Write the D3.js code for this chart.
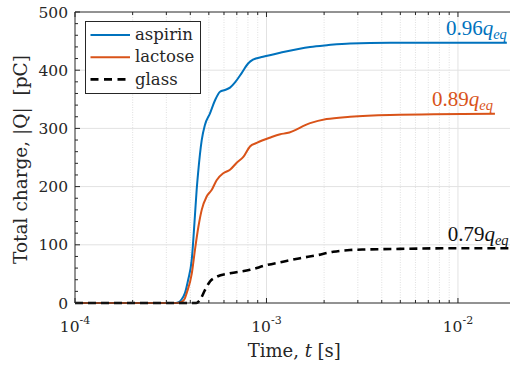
<!DOCTYPE html>
<html>
<head>
<meta charset="utf-8">
<script src="https://cdn.jsdelivr.net/npm/d3@7/dist/d3.min.js"></script>
<style>
  body { margin: 0; background: #fff; }
  svg { display: block; }
</style>
</head>
<body>
<div id="chart"></div>
<script>
'use strict';

// ─── Data ──────────────────────────────────────────────────────────────────
const seriesNames = ['aspirin', 'lactose', 'glass'];

const aspirinT = [1e-4, 3.3e-4, 3.45e-4, 3.6e-4, 3.75e-4, 3.9e-4, 4.07e-4, 4.23e-4, 4.32e-4, 4.39e-4,
                  4.59e-4, 4.77e-4, 5.07e-4, 5.38e-4, 5.72e-4, 6.07e-4, 6.45e-4, 6.85e-4, 7.42e-4,
                  8.04e-4, 8.5e-4, 9.59e-4, 1.18e-3, 1.69e-3, 2.07e-3, 2.73e-3, 4.42e-3, 1.8e-2];
const aspirinQ = [0, 0, 1, 6, 17, 40, 74, 150, 195, 222,
                  280, 306, 326, 348, 363, 366, 370, 379, 395,
                  412, 418, 423, 430, 440, 443, 446, 447, 447];

const lactoseT = [1e-4, 3.4e-4, 3.61e-4, 3.75e-4, 3.83e-4, 4.07e-4, 4.23e-4, 4.41e-4, 4.59e-4, 4.87e-4,
                  5.17e-4, 5.49e-4, 5.95e-4, 6.45e-4, 6.99e-4, 7.57e-4, 8.2e-4, 8.89e-4, 1.04e-3,
                  1.18e-3, 1.28e-3, 1.69e-3, 2.06e-3, 2.73e-3, 4.42e-3, 1.56e-2];
const lactoseQ = [0, 0, 2, 8, 17, 50, 91, 131, 160, 183,
                  194, 211, 223, 229, 241, 251, 269, 275, 284,
                  290, 292, 309, 316, 320, 323, 325];

const glassT = [1e-4, 4.3e-4, 4.49e-4, 4.77e-4, 5.07e-4, 5.49e-4, 6.45e-4, 8.2e-4, 1e-3, 1.22e-3,
                1.5e-3, 1.83e-3, 2.23e-3, 2.73e-3, 3.34e-3, 4.98e-3, 9.08e-3, 2e-2];
const glassQ = [0, 0, 5, 22, 37, 45, 51, 57, 65, 71,
                77, 82, 88, 91, 92, 93, 94, 94];

const endLabels = ['0.96', '0.89', '0.79'];   // × q_eq

const yTicks      = [0, 100, 200, 300, 400, 500];
const xTickExps   = [-4, -3, -2];

// ─── Layout ────────────────────────────────────────────────────────────────
const W = 510, H = 367;
const L = 75, T = 12, B = 303;
const R = 515.6;   // axes box runs just past the cropped edge

const COLORS = { aspirin: '#0072BD', lactose: '#D95319', glass: '#000000' };
const AXIS = '#262626';
const SERIF = '"DejaVu Serif", serif';
const TEX = '"Liberation Serif", "DejaVu Serif", serif';

const svg = d3.select('#chart').append('svg')
    .attr('width', W).attr('height', H)
    .attr('viewBox', '0 0 ' + W + ' ' + H);

const x = d3.scaleLog().domain([1e-4, 2e-2]).range([L, R]);
const y = d3.scaleLinear().domain([0, 500]).range([B, T]);

// minor positions on the log axis: 2..9 per decade
const minorX = [];
[-4, -3, -2].forEach(function (e) {
    for (let k = 2; k <= 9; k++) {
        const v = k * Math.pow(10, e);
        if (v <= x.domain()[1]) minorX.push(v);
    }
});
const majorX = xTickExps.map(function (e) { return Math.pow(10, e); });
const minorY = d3.range(0, 501, 20).filter(function (v) { return v % 100 !== 0; });

// ─── Grid ──────────────────────────────────────────────────────────────────
const grid = svg.append('g');
grid.selectAll('.gx-minor').data(minorX).enter().append('line')
    .attr('x1', d => x(d)).attr('x2', d => x(d))
    .attr('y1', T).attr('y2', B)
    .attr('stroke', '#d8d8d8').attr('stroke-width', 0.8)
    .attr('stroke-dasharray', '1,1.5');
grid.selectAll('.gx-major').data(majorX.slice(1)).enter().append('line')
    .attr('x1', d => x(d)).attr('x2', d => x(d))
    .attr('y1', T).attr('y2', B)
    .attr('stroke', '#e2e2e2').attr('stroke-width', 1);
grid.selectAll('.gy').data(yTicks.slice(1, -1)).enter().append('line')
    .attr('x1', L).attr('x2', R)
    .attr('y1', d => y(d)).attr('y2', d => y(d))
    .attr('stroke', '#e2e2e2').attr('stroke-width', 1);

// ─── Curves ────────────────────────────────────────────────────────────────
const line = d3.line()
    .x(d => x(d[0])).y(d => y(d[1]))
    .curve(d3.curveMonotoneX);

const series = [
    { name: 'aspirin', t: aspirinT, q: aspirinQ },
    { name: 'lactose', t: lactoseT, q: lactoseQ },
    { name: 'glass',   t: glassT,   q: glassQ }
];

svg.append('g').selectAll('path').data(series).enter().append('path')
    .attr('d', s => line(d3.zip(s.t, s.q)))
    .attr('fill', 'none')
    .attr('stroke', s => COLORS[s.name])
    .attr('stroke-width', s => s.name === 'glass' ? 2.6 : 2)
    .attr('stroke-dasharray', s => s.name === 'glass' ? '8,5' : null)
    .attr('stroke-linejoin', 'round');

// ─── Axes box + ticks (inward, MATLAB style) ───────────────────────────────
const ax = svg.append('g').attr('stroke', AXIS).attr('stroke-width', 1).attr('fill', 'none');
ax.append('path').attr('d', 'M' + R + ',' + T + 'H' + L + 'V' + B + 'H' + R);

[[majorX, 5], [minorX, 3]].forEach(function (p) {
    ax.selectAll(null).data(p[0]).enter().append('line')
        .attr('x1', d => x(d)).attr('x2', d => x(d))
        .attr('y1', B).attr('y2', B - p[1]);
    ax.selectAll(null).data(p[0]).enter().append('line')
        .attr('x1', d => x(d)).attr('x2', d => x(d))
        .attr('y1', T).attr('y2', T + p[1]);
});
[[yTicks, 5], [minorY, 3]].forEach(function (p) {
    ax.selectAll(null).data(p[0]).enter().append('line')
        .attr('x1', L).attr('x2', L + p[1])
        .attr('y1', d => y(d)).attr('y2', d => y(d));
});

// tick labels
svg.append('g').selectAll('text').data(yTicks).enter().append('text')
    .attr('x', L - 7).attr('y', d => y(d)).attr('dy', '0.36em')
    .attr('text-anchor', 'end')
    .attr('font-family', SERIF).attr('font-size', 15.5).attr('fill', AXIS)
    .text(d => d);

const xl = svg.append('g').selectAll('text').data(xTickExps).enter().append('text')
    .attr('x', d => x(Math.pow(10, d))).attr('y', 331.7)
    .attr('text-anchor', 'middle')
    .attr('font-family', SERIF).attr('font-size', 15.5).attr('fill', AXIS);
xl.append('tspan').text('10');
xl.append('tspan').attr('dy', -8).attr('font-size', 11).text(d => '-' + Math.abs(d));

// axis titles
const xt = svg.append('text')
    .attr('x', (L + R) / 2 - 1).attr('y', 356.5)
    .attr('text-anchor', 'middle')
    .attr('font-family', SERIF).attr('font-size', 18).attr('fill', AXIS);
xt.append('tspan').text('Time, ');
xt.append('tspan').attr('font-style', 'italic').text('t');
xt.append('tspan').text(' [s]');

svg.append('text')
    .attr('transform', 'translate(27,' + ((T + B) / 2 + 2) + ') rotate(-90)')
    .attr('text-anchor', 'middle')
    .attr('font-family', SERIF).attr('font-size', 18.5).attr('fill', AXIS)
    .attr('xml:space', 'preserve')
    .text('Total charge, |Q|  [pC]');

// ─── End-of-curve annotations ──────────────────────────────────────────────
const annDx = [0, -2, -7];
series.forEach(function (s, i) {
    const n = s.t.length - 1;
    const g = svg.append('text')
        .attr('x', x(s.t[n]) + annDx[i]).attr('y', y(s.q[n]) - 7.5)
        .attr('text-anchor', 'end')
        .attr('font-family', TEX).attr('font-size', 21)
        .attr('fill', COLORS[s.name] === '#000000' ? '#111' : COLORS[s.name]);
    g.append('tspan').text(endLabels[i]);
    g.append('tspan').attr('font-style', 'italic').text('q');
    g.append('tspan').attr('font-style', 'italic').attr('font-size', 14.5).attr('dy', 4).text('eq');
});

// ─── Legend ────────────────────────────────────────────────────────────────
const leg = svg.append('g');
leg.append('rect')
    .attr('x', 85.5).attr('y', 21.5).attr('width', 115).attr('height', 72)
    .attr('fill', '#fff').attr('stroke', AXIS).attr('stroke-width', 1);
const rows = leg.selectAll('g.row').data(seriesNames).enter().append('g')
    .attr('transform', (d, i) => 'translate(0,' + (35 + i * 22.2) + ')');
rows.append('line')
    .attr('x1', 90.5).attr('x2', 130)
    .attr('stroke', d => COLORS[d])
    .attr('stroke-width', d => d === 'glass' ? 2.6 : 2)
    .attr('stroke-dasharray', d => d === 'glass' ? '8,5.5' : null);
rows.append('text')
    .attr('x', 135).attr('dy', '0.32em')
    .attr('font-family', SERIF).attr('font-size', 16.5).attr('fill', AXIS)
    .text(d => d);
</script>
</body>
</html>
